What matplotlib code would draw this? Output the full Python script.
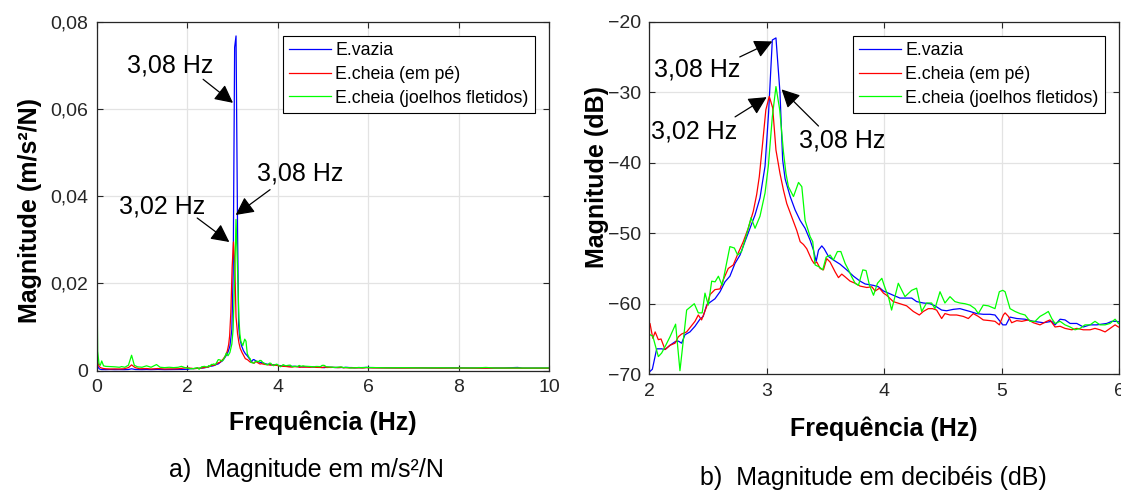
"""Resposta em frequência da estrutura: magnitude linear e em dB"""

import numpy as np
import matplotlib
matplotlib.use('Agg')
import matplotlib.pyplot as plt

plt.rcParams['font.family'] = ['Liberation Sans', 'DejaVu Sans']

# --- dados (frequência em Hz, magnitude em dB) ---
LABELS = ['E.vazia', 'E.cheia (em pé)', 'E.cheia (joelhos fletidos)']
COLORS = ['#0000ff', '#ff0000', '#00ff00']

freq_vazia = [
    0.0, 0.03, 0.06, 0.1, 0.2, 0.3, 0.4, 0.5, 0.6, 0.7, 0.77, 0.85, 1.0, 1.1,
    1.2, 1.35, 1.5, 1.6, 1.75, 1.9,
    2.006, 2.026, 2.063, 2.105, 2.134, 2.176, 2.219, 2.247, 2.275, 2.304,
    2.346, 2.389, 2.431, 2.459, 2.488, 2.517, 2.559, 2.602, 2.644, 2.686,
    2.729, 2.772, 2.814, 2.857, 2.9, 2.942, 2.985, 3.015, 3.047, 3.078,
    3.112, 3.135, 3.156, 3.199, 3.241, 3.284, 3.326, 3.369, 3.397, 3.42,
    3.44, 3.468, 3.488, 3.525, 3.567, 3.624, 3.68, 3.738, 3.794, 3.837,
    3.908, 3.95, 3.993, 4.035, 4.076, 4.133, 4.19, 4.233, 4.275, 4.332,
    4.389, 4.431, 4.488, 4.53, 4.587, 4.644, 4.686, 4.729, 4.786, 4.842,
    4.899, 4.942, 4.985, 5.008, 5.036, 5.07, 5.127, 5.198, 5.269, 5.354,
    5.425, 5.453, 5.496, 5.538, 5.581, 5.638, 5.694, 5.751, 5.808, 5.85,
    5.893, 5.936, 5.978,
    6.05, 6.3, 6.6, 7.0, 7.4, 7.8, 8.2, 8.6, 9.0, 9.3, 9.4, 9.7, 10.0,
]
db_vazia = [
    -52, -62, -68, -71, -72, -71, -72, -71.5, -72, -71, -67, -71, -72, -71,
    -72, -70.5, -72, -71.5, -71, -70.5,
    -69.6, -69.3, -66.4, -66.4, -66.5, -65.9, -65.4, -65.3, -65.6, -64.4,
    -64.0, -63.2, -62.2, -61.8, -60.2, -59.8, -59.3, -58.3, -56.9, -56.1,
    -54.3, -53.1, -51.2, -49.3, -47.4, -45.0, -40.5, -33.0, -22.6, -22.3,
    -30.0, -39.6, -42.3, -44.8, -46.7, -48.2, -49.3, -51.0, -52.4, -54.0,
    -52.4, -51.8, -52.2, -53.3, -53.8, -54.4, -55.2, -56.1, -56.8, -57.2,
    -57.4, -57.6, -58.2, -58.5, -58.8, -59.2, -59.2, -59.2, -59.7, -59.9,
    -60.0, -60.3, -60.9, -61.0, -60.8, -60.7, -60.9, -61.1, -61.4, -61.5,
    -61.5, -61.6, -62.5, -63.0, -63.0, -61.9, -62.1, -62.2, -62.5, -62.7,
    -62.5, -63.0, -62.2, -62.3, -62.8, -62.8, -63.3, -63.0, -63.0, -62.9,
    -62.8, -62.5, -62.5,
    -62.8, -63.2, -63.5, -63.3, -63.8, -63.6, -64.0, -64.2, -64.0, -62.5,
    -64.5, -64.3, -64.5,
]

freq_empe = [
    0.0, 0.03, 0.06, 0.1, 0.15, 0.2, 0.3, 0.4, 0.5, 0.6, 0.7, 0.77, 0.85,
    0.95, 1.1, 1.2, 1.35, 1.5, 1.65, 1.8, 1.95,
    2.006, 2.03, 2.05, 2.077, 2.1, 2.134, 2.176, 2.219, 2.247, 2.275, 2.318,
    2.389, 2.417, 2.445, 2.488, 2.517, 2.559, 2.602, 2.63, 2.672, 2.715,
    2.757, 2.8, 2.842, 2.885, 2.914, 2.936, 2.963, 2.992, 3.021, 3.05, 3.078,
    3.112, 3.142, 3.17, 3.213, 3.255, 3.284, 3.312, 3.34, 3.383, 3.403,
    3.426, 3.454, 3.482, 3.51, 3.539, 3.582, 3.61, 3.638, 3.667, 3.709,
    3.752, 3.794, 3.851, 3.894, 3.922, 3.959, 3.993, 4.02, 4.076, 4.133,
    4.19, 4.247, 4.298, 4.332, 4.374, 4.411, 4.445, 4.488, 4.516, 4.559,
    4.616, 4.672, 4.715, 4.757, 4.8, 4.842, 4.899, 4.942, 4.979, 5.013,
    5.028, 5.056, 5.084, 5.127, 5.17, 5.226, 5.269, 5.325, 5.382, 5.41,
    5.453, 5.496, 5.538, 5.595, 5.638, 5.694, 5.751, 5.793, 5.836, 5.879,
    5.921, 5.964, 5.992,
    6.1, 6.4, 6.8, 7.2, 7.6, 8.0, 8.4, 8.8, 9.2, 9.6, 10.0,
]
db_empe = [
    -50.5, -56, -61, -64, -66, -67, -68, -67.5, -68, -67, -63, -57.5, -63,
    -67, -66, -68, -66, -68, -67.5, -67, -64,
    -62.8, -64.9, -64.0, -65.1, -65.0, -66.5, -65.9, -65.6, -64.7, -64.3,
    -64.0, -62.5, -61.6, -62.3, -60.4, -58.7, -58.0, -57.9, -56.6, -55.0,
    -54.5, -52.8, -51.2, -49.3, -46.9, -44.5, -42.0, -37.5, -32.5, -30.6,
    -32.2, -38.2, -41.5, -43.9, -45.8, -47.7, -49.6, -51.2, -51.6, -52.2,
    -53.8, -54.3, -54.1, -55.0, -55.2, -53.6, -54.1, -55.5, -56.3, -55.8,
    -56.2, -56.8, -57.1, -57.5, -57.7, -57.6, -58.2, -57.8, -58.5, -58.8,
    -59.7, -60.0, -60.3, -61.1, -61.6, -61.1, -60.7, -60.7, -60.9, -62.1,
    -61.4, -61.6, -61.6, -61.8, -62.1, -61.4, -61.8, -62.3, -62.4, -62.5,
    -63.0, -61.6, -61.3, -61.8, -62.7, -62.4, -62.5, -62.3, -62.7, -63.0,
    -62.5, -62.3, -63.3, -63.2, -63.5, -63.7, -63.5, -63.7, -63.7, -63.5,
    -63.7, -64.0, -63.5, -63.0, -63.3,
    -63.8, -64.0, -64.3, -64.0, -64.5, -64.3, -64.8, -64.5, -64.8, -65.0,
    -64.8,
]

freq_joelhos = [
    0.0, 0.02, 0.05, 0.08, 0.11, 0.15, 0.2, 0.3, 0.4, 0.5, 0.55, 0.62, 0.7,
    0.77, 0.83, 0.9, 1.0, 1.1, 1.2, 1.32, 1.4, 1.5, 1.6, 1.7, 1.8, 1.87, 1.95,
    2.006, 2.03, 2.077, 2.105, 2.134, 2.176, 2.224, 2.261, 2.318, 2.383,
    2.417, 2.45, 2.474, 2.502, 2.531, 2.56, 2.588, 2.62, 2.686, 2.724, 2.752,
    2.785, 2.828, 2.866, 2.9, 2.942, 2.985, 3.013, 3.047, 3.078, 3.11, 3.142,
    3.163, 3.184, 3.227, 3.27, 3.298, 3.326, 3.369, 3.391, 3.411, 3.448,
    3.476, 3.505, 3.539, 3.567, 3.601, 3.63, 3.667, 3.695, 3.723, 3.752,
    3.78, 3.817, 3.845, 3.874, 3.908, 3.942, 3.979, 4.007, 4.035, 4.062,
    4.119, 4.176, 4.233, 4.275, 4.318, 4.36, 4.403, 4.431, 4.474, 4.516,
    4.559, 4.601, 4.644, 4.686, 4.729, 4.772, 4.8, 4.842, 4.885, 4.942,
    4.979, 5.008, 5.028, 5.07, 5.113, 5.155, 5.198, 5.24, 5.283, 5.325,
    5.368, 5.396, 5.425, 5.453, 5.496, 5.538, 5.581, 5.623, 5.666, 5.708,
    5.751, 5.793, 5.836, 5.879, 5.921, 5.964, 5.992,
    6.1, 6.4, 6.8, 7.2, 7.6, 8.0, 8.4, 8.6, 8.8, 9.2, 9.6, 10.0,
]
db_joelhos = [
    -32, -47, -56, -58, -53, -59, -60, -60.5, -61, -62, -60.5, -62, -58,
    -49, -58, -61, -62, -59, -62, -57, -62, -63, -62, -63, -62, -60, -63,
    -64.4, -64.6, -67.5, -67.0, -66.1, -64.7, -62.9, -69.5, -60.9, -60.0,
    -61.3, -61.3, -58.5, -60.2, -56.8, -56.9, -56.1, -57.4, -51.9, -52.1,
    -53.1, -52.6, -50.2, -47.8, -49.3, -47.6, -44.3, -40.5, -33.5, -29.2,
    -32.5, -38.5, -41.5, -43.4, -44.8, -42.8, -43.4, -48.2, -50.5, -51.2,
    -54.5, -54.8, -55.2, -53.4, -53.1, -53.8, -52.6, -52.6, -54.3, -55.2,
    -56.2, -57.1, -57.4, -55.2, -55.3, -57.4, -58.8, -57.1, -56.4, -57.8,
    -59.0, -60.9, -57.1, -59.0, -58.1, -57.8, -61.1, -59.9, -59.9, -60.7,
    -58.3, -59.9, -59.0, -59.7, -59.9, -60.0, -60.2, -60.7, -61.4, -60.2,
    -60.3, -60.7, -58.3, -58.1, -58.3, -60.7, -61.1, -61.4, -61.6, -62.5,
    -62.5, -61.8, -61.4, -61.1, -62.1, -62.8, -62.5, -63.0, -63.3, -63.7,
    -63.5, -63.0, -63.0, -62.5, -63.0, -63.0, -62.8, -62.2, -62.8,
    -62.8, -63.5, -63.2, -63.8, -63.5, -64.0, -63.8, -62.5, -64.2, -64.0,
    -64.3, -64.0,
]

# marcas dos eixos
lin_yticks = [0, 0.02, 0.04, 0.06, 0.08]
lin_yticklabels = ['0', '0,02', '0,04', '0,06', '0,08']
lin_xticks = [0, 2, 4, 6, 8, 10]
db_yticks = [-70, -60, -50, -40, -30, -20]
db_xticks = [2, 3, 4, 5, 6]

# anotações: (texto, posição do texto, ponta da seta, cauda da seta)
notes_lin = [
    ('3,08 Hz', (1.62, 0.0700), (3.01, 0.0614), (2.35, 0.0668)),
    ('3,02 Hz', (1.45, 0.0377), (2.93, 0.0295), (2.22, 0.0350)),
    ('3,08 Hz', (4.49, 0.0451), (3.07, 0.0357), (3.83, 0.0415)),
]
notes_db = [
    ('3,08 Hz', (2.41, -26.8), (3.047, -22.8), (2.77, -25.0)),
    ('3,02 Hz', (2.38, -35.6), (2.999, -30.7), (2.73, -33.5)),
    ('3,08 Hz', (3.64, -36.8), (3.126, -29.6), (3.44, -34.8)),
]

AXIS_COLOR = '#262626'


def style_axes(axis):
    """Estilo parecido com o do MATLAB (caixa, grade e marcas para dentro)"""
    axis.grid(True, color='#e3e3e3', lw=0.9)
    axis.set_axisbelow(True)
    for spine in axis.spines.values():
        spine.set_color(AXIS_COLOR)
        spine.set_linewidth(0.9)
    axis.tick_params(direction='in', top=True, right=True, length=4,
                     width=0.8, colors=AXIS_COLOR, labelsize=14, pad=6)


def annotate(axis, notes):
    """Textos com setas apontando para os picos"""
    for text, pos, head, tail in notes:
        axis.text(pos[0], pos[1], text, fontsize=18, ha='center',
                  va='center')
        axis.annotate(
            '', xy=head, xytext=tail,
            arrowprops=dict(arrowstyle='-|>,head_length=0.55,head_width=0.28',
                            color='k', lw=0.9, mutation_scale=20,
                            shrinkA=0, shrinkB=0)
        )


series = [
    (np.array(freq_vazia), np.array(db_vazia)),
    (np.array(freq_empe), np.array(db_empe)),
    (np.array(freq_joelhos), np.array(db_joelhos)),
]

fig = plt.figure(figsize=(11.21, 4.92), dpi=100)
ax_lin = fig.add_axes([0.0863, 0.2465, 0.4037, 0.7094])
ax_db = fig.add_axes([0.5792, 0.2394, 0.4193, 0.7165])

for (freq, db), label, color in zip(series, LABELS, COLORS):
    ax_lin.plot(freq, 10 ** (db / 20), color=color, lw=0.9, label=label)
    ax_db.plot(freq, db, color=color, lw=0.9, label=label)

# a) magnitude em m/s²/N
ax_lin.set_xlim(0, 10)
ax_lin.set_ylim(0, 0.08)
ax_lin.set_xticks(lin_xticks)
ax_lin.set_yticks(lin_yticks)
ax_lin.set_yticklabels(lin_yticklabels)
style_axes(ax_lin)
annotate(ax_lin, notes_lin)
ax_lin.set_xlabel('Frequência (Hz)', fontsize=18, fontweight='bold')
ax_lin.xaxis.set_label_coords(0.5, -0.150)
ax_lin.xaxis.label.set_va('center')
ax_lin.set_ylabel('Magnitude (m/s²/N)', fontsize=18, fontweight='bold')
ax_lin.yaxis.set_label_coords(-0.147, 0.46)
ax_lin.yaxis.label.set_va('center')

# b) magnitude em dB
ax_db.set_xlim(2, 6)
ax_db.set_ylim(-70, -20)
ax_db.set_xticks(db_xticks)
ax_db.set_yticks(db_yticks)
style_axes(ax_db)
annotate(ax_db, notes_db)
ax_db.set_xlabel('Frequência (Hz)', fontsize=18, fontweight='bold')
ax_db.xaxis.set_label_coords(0.50, -0.154)
ax_db.xaxis.label.set_va('center')
ax_db.set_ylabel('Magnitude (dB)', fontsize=18, fontweight='bold')
ax_db.yaxis.set_label_coords(-0.111, 0.56)
ax_db.yaxis.label.set_va('center')

for axis, anchor in ((ax_lin, (0.9684, 0.9599)), (ax_db, (0.9696, 0.9603))):
    leg = axis.legend(loc='upper right', bbox_to_anchor=anchor,
                      borderaxespad=0, fontsize=12.8, fancybox=False,
                      framealpha=1, edgecolor='k', handlelength=2.36,
                      handletextpad=0.24, borderpad=0.36, labelspacing=0.38)
    leg.get_frame().set_linewidth(0.8)

fig.text(0.273, 0.045, 'a)  Magnitude em m/s²/N', fontsize=18,
         ha='center', va='center')
fig.text(0.779, 0.0285, 'b)  Magnitude em decibéis (dB)', fontsize=18,
         ha='center', va='center')

fig.savefig('out.png', dpi=100)
